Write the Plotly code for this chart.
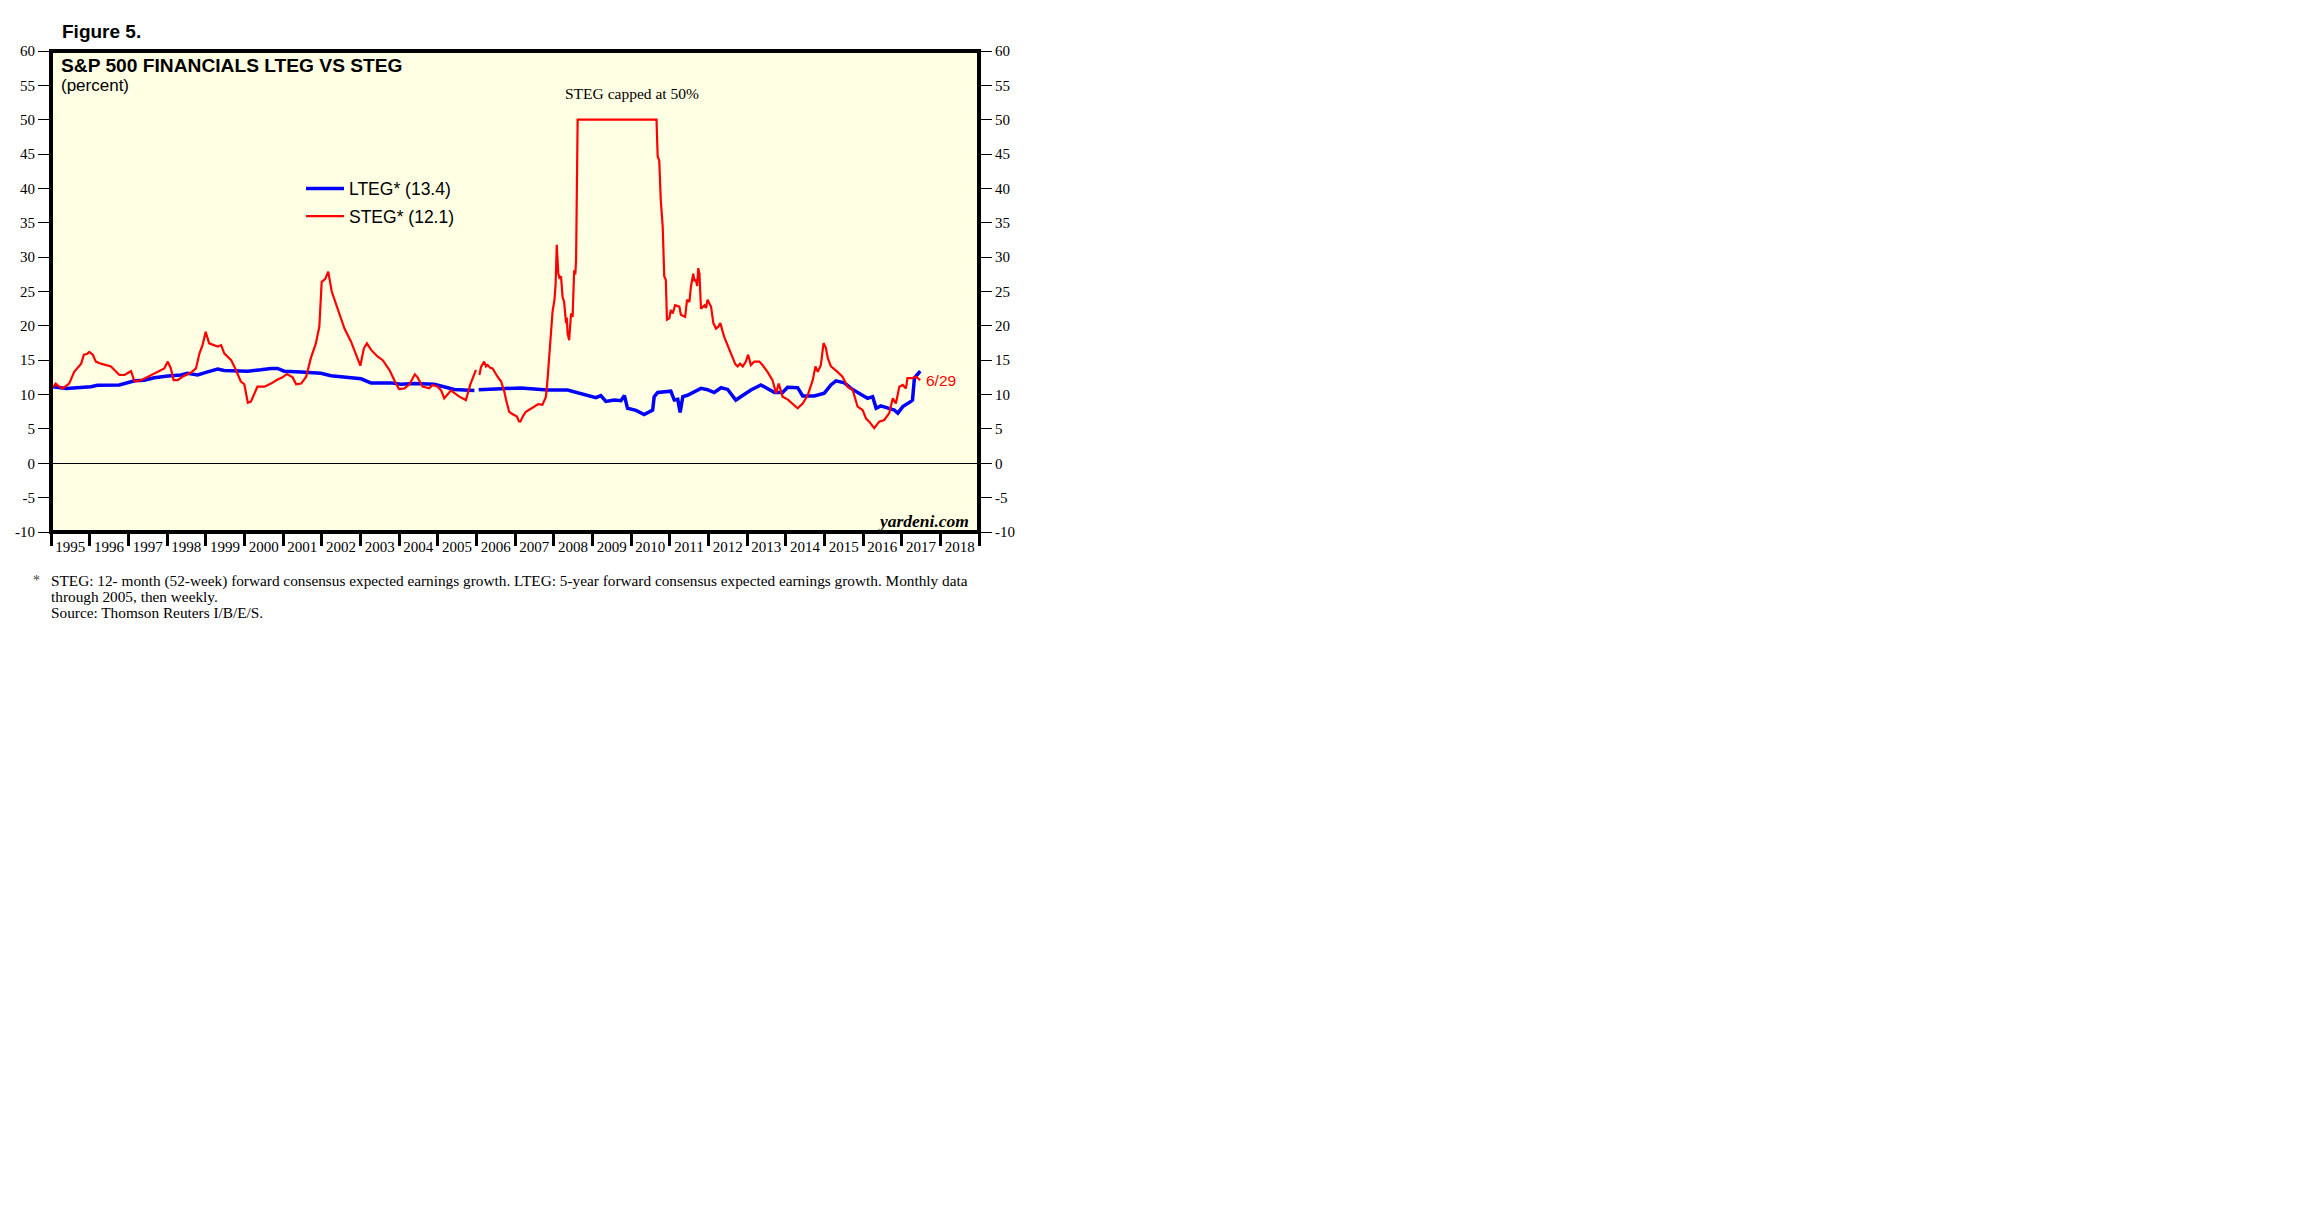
import plotly.graph_objects as go

# ---------------- data ----------------
years = list(range(1995, 2019))
year_labels = [str(y) for y in years]
y_ticks = list(range(-10, 61, 5))
y_tick_labels = [str(v) for v in y_ticks]

steg_x = [1995.05, 1995.12, 1995.2, 1995.3, 1995.47, 1995.6, 1995.78, 1995.85, 1995.93, 1995.99,
          1996.08, 1996.16, 1996.29, 1996.55, 1996.77, 1996.9, 1997.07, 1997.16, 1997.33, 1997.5,
          1997.72, 1997.93, 1998.02, 1998.1, 1998.17, 1998.28, 1998.4, 1998.62, 1998.75, 1998.84,
          1998.92, 1999.0, 1999.09, 1999.22, 1999.31, 1999.4, 1999.48, 1999.66, 1999.74, 1999.91,
          2000.0, 2000.09, 2000.17, 2000.34, 2000.52, 2000.69, 2000.86, 2000.99, 2001.1, 2001.25,
          2001.34, 2001.47, 2001.6, 2001.72, 2001.85, 2001.94, 2002.0, 2002.09, 2002.17, 2002.26,
          2002.41, 2002.59, 2002.76, 2002.89, 2003.0, 2003.09, 2003.17, 2003.28, 2003.45, 2003.58,
          2003.75, 2003.88, 2004.0, 2004.14, 2004.27, 2004.41, 2004.48, 2004.61, 2004.78, 2004.87,
          2005.0, 2005.09, 2005.17, 2005.34, 2005.56, 2005.73, 2005.84, 2005.99, 2006.03,
          2006.08, 2006.12, 2006.2, 2006.25, 2006.29, 2006.36, 2006.42, 2006.5, 2006.55, 2006.64,
          2006.72, 2006.77, 2006.85, 2006.92, 2006.98, 2007.05, 2007.1, 2007.14, 2007.2, 2007.28,
          2007.4, 2007.5, 2007.6, 2007.71, 2007.8, 2007.84, 2007.89, 2007.93, 2007.97, 2008.02,
          2008.05, 2008.08, 2008.1, 2008.12, 2008.15, 2008.19, 2008.23, 2008.27, 2008.32, 2008.34,
          2008.36, 2008.4, 2008.45, 2008.49, 2008.53, 2008.56, 2008.58, 2008.6, 2008.62, 2009.0,
          2009.5, 2010.0, 2010.5, 2010.66, 2010.69, 2010.73, 2010.77, 2010.8, 2010.82, 2010.86,
          2010.9, 2010.93, 2010.99, 2011.03, 2011.08, 2011.14, 2011.19, 2011.25, 2011.29, 2011.4,
          2011.45, 2011.51, 2011.55, 2011.61, 2011.64, 2011.68, 2011.71, 2011.74, 2011.77, 2011.81,
          2011.9, 2011.94, 2011.98, 2012.07, 2012.13, 2012.2, 2012.26, 2012.31, 2012.41, 2012.54,
          2012.63, 2012.7, 2012.76, 2012.82, 2012.89, 2012.97, 2013.03, 2013.1, 2013.19, 2013.32,
          2013.4, 2013.53, 2013.66, 2013.75, 2013.82, 2013.92, 2014.05, 2014.18, 2014.31, 2014.44,
          2014.57, 2014.7, 2014.77, 2014.83, 2014.91, 2014.98, 2015.04, 2015.09, 2015.17, 2015.34,
          2015.47, 2015.6, 2015.73, 2015.86, 2015.99, 2016.08, 2016.16, 2016.29, 2016.35, 2016.42,
          2016.55, 2016.68, 2016.77, 2016.85, 2016.94, 2017.03, 2017.11, 2017.15, 2017.28, 2017.37,
          2017.48]
steg_y = [11.0, 11.6, 11.2, 10.9, 11.6, 13.3, 14.5, 15.8, 15.9, 16.2,
          15.8, 14.8, 14.5, 14.1, 12.85, 12.85, 13.4, 11.9, 12.1, 12.6,
          13.3, 13.8, 14.8, 13.8, 12.1, 12.1, 12.6, 13.2, 13.8, 16.0,
          17.2, 19.15, 17.45, 17.2, 17.0, 17.2, 16.0, 15.0, 14.1, 11.9,
          11.5, 8.8, 8.97, 11.15, 11.15, 11.6, 12.2, 12.5, 13.0, 12.5,
          11.5, 11.6, 12.6, 15.3, 17.45, 19.9, 26.4, 26.8, 27.9, 25.0,
          22.5, 19.6, 17.7, 15.8, 14.2, 16.7, 17.45, 16.5, 15.5, 15.0,
          13.6, 12.1, 10.8, 10.9, 11.5, 12.95, 12.5, 11.15, 10.9, 11.4,
          11.15, 10.6, 9.45, 10.6, 9.7, 9.2, 11.4, 13.6, None,
          12.85, 14.0, 14.8, 14.1, 14.3, 13.9, 13.8, 13.0, 12.6, 11.9,
          10.5, 9.2, 7.5, 7.2, 7.0, 6.8, 6.1, 6.06, 6.8, 7.5,
          7.9, 8.25, 8.6, 8.5, 9.7, 12.1, 16.5, 18.9, 22.0, 23.8,
          26.0, 31.8, 29.0, 27.6, 27.0, 27.2, 24.2, 23.5, 20.4, 21.2,
          18.9, 17.9, 21.8, 21.3, 28.1, 27.5, 29.6, 44.1, 50.0, 50.0,
          50.0, 50.0, 50.0, 50.0, 44.6, 44.1, 38.3, 36.5, 34.4, 27.2,
          26.7, 20.9, 21.1, 22.3, 21.8, 23.0, 22.9, 22.8, 21.6, 21.3,
          23.8, 23.5, 25.7, 27.6, 26.5, 26.7, 25.8, 28.4, 27.6, 22.5,
          23.0, 22.6, 23.8, 22.8, 20.4, 19.6, 19.9, 20.4, 18.4, 16.7,
          15.5, 14.4, 14.1, 14.5, 14.1, 14.8, 15.8, 14.3, 14.8, 14.8,
          14.3, 13.3, 12.1, 10.2, 11.6, 9.7, 9.3, 8.7, 8.0, 8.7,
          9.9, 12.1, 14.1, 13.3, 14.3, 17.5, 16.8, 15.3, 14.1, 13.3,
          12.6, 11.15, 10.7, 8.25, 7.75, 6.5, 6.06, 5.1, 5.5, 6.06,
          6.3, 7.3, 9.45, 8.7, 11.15, 11.4, 10.9, 12.4, 12.4, 12.6,
          12.1]

lteg_x = [1995.05, 1995.4, 1996.03, 1996.2, 1996.77, 1996.98, 1997.16, 1997.41, 1997.67, 1998.02,
          1998.36, 1998.53, 1998.79, 1999.05, 1999.31, 1999.48, 1999.74, 2000.09, 2000.43, 2000.69,
          2000.86, 2001.03, 2001.47, 2001.81, 2001.98, 2002.24, 2002.59, 2003.02, 2003.19, 2003.28,
          2003.79, 2004.05, 2004.4, 2004.91, 2005.26, 2005.43, 2005.95, 2006.01,
          2006.06, 2006.47, 2006.64, 2007.15, 2007.84, 2008.36, 2008.62, 2008.88, 2009.09, 2009.22,
          2009.35, 2009.57, 2009.74, 2009.83, 2009.91, 2010.13, 2010.34, 2010.56, 2010.6, 2010.69,
          2011.03, 2011.12, 2011.21, 2011.27, 2011.34, 2011.46, 2011.64, 2011.81, 2011.98, 2012.15,
          2012.33, 2012.5, 2012.71, 2012.93, 2013.1, 2013.36, 2013.53, 2013.71, 2013.92, 2014.05,
          2014.31, 2014.44, 2014.74, 2015.0, 2015.17, 2015.3, 2015.52, 2015.69, 2015.95, 2016.12,
          2016.25, 2016.34, 2016.46, 2016.68, 2016.81, 2016.9, 2017.03, 2017.24, 2017.28, 2017.33,
          2017.41, 2017.48]
lteg_y = [11.15, 10.9, 11.15, 11.35, 11.4, 11.7, 12.0, 12.1, 12.45, 12.7,
          12.85, 13.1, 12.85, 13.3, 13.7, 13.5, 13.5, 13.4, 13.6, 13.8,
          13.8, 13.4, 13.3, 13.2, 13.1, 12.75, 12.5, 12.3, 11.9, 11.7,
          11.7, 11.5, 11.6, 11.5, 11.0, 10.75, 10.6, None,
          10.7, 10.75, 10.86, 10.96, 10.67, 10.67, 10.3, 9.9, 9.55, 9.85,
          9.0, 9.2, 9.1, 9.85, 8.0, 7.7, 7.1, 7.75, 9.7, 10.3,
          10.5, 9.2, 9.3, 7.4, 9.7, 9.9, 10.4, 10.9, 10.7, 10.3,
          11.0, 10.75, 9.2, 10.0, 10.67, 11.4, 10.9, 10.3, 10.3, 11.05,
          11.0, 9.8, 9.8, 10.2, 11.4, 12.0, 11.7, 10.9, 10.0, 9.45,
          9.7, 8.0, 8.35, 8.0, 7.75, 7.3, 8.25, 9.0, 9.2, 12.4,
          13.0, 13.4]

# ---------------- geometry helpers (page pixel -> paper) ----------------
OFF = 8                       # default body margin of the html page
W, H = 2304 - 2 * OFF, 1228 - 2 * OFF
L, R, T, B = 51, 979, 51, 532  # plot area in page pixels


def px(x):
    return (x - L) / (R - L)


def py(y):
    return (B - y) / (B - T)


SERIF = "Liberation Serif, Times New Roman, serif"
SANS = "Liberation Sans, Arial, sans-serif"

fig = go.Figure()
fig.add_trace(go.Scatter(x=lteg_x, y=lteg_y, mode="lines", name="LTEG* (13.4)", legendgroup="a",
                         line=dict(color="#0000FF", width=3.5), connectgaps=False))
fig.add_trace(go.Scatter(x=steg_x, y=steg_y, mode="lines", name="STEG* (12.1)", legendgroup="b",
                         line=dict(color="#FF0000", width=2.2), connectgaps=False))
# invisible trace to anchor right axis
fig.add_trace(go.Scatter(x=[None], y=[None], yaxis="y2", showlegend=False, hoverinfo="skip"))

axis_font = dict(family=SERIF, size=15, color="black")
fig.update_layout(
    width=W, height=H,
    margin=dict(l=L - OFF, r=(W + OFF) - R, t=T - OFF, b=(H + OFF) - B, pad=0, autoexpand=False),
    paper_bgcolor="white",
    plot_bgcolor="#FFFFE3",
    showlegend=True,
    legend=dict(x=px(301), y=py(170.5), xanchor="left", yanchor="top",
                bgcolor="rgba(0,0,0,0)", borderwidth=0, itemwidth=38,
                font=dict(family=SANS, size=17.5, color="black"),
                tracegroupgap=2),
    xaxis=dict(range=[1995, 2019], showgrid=False, zeroline=False, automargin=False,
               tickmode="array", tickvals=[y + 0.5 for y in years], ticktext=year_labels,
               ticks="outside", ticklen=1, tickcolor="rgba(0,0,0,0)",
               tickfont=axis_font,
               minor=dict(tickmode="array", tickvals=list(range(1995, 2020)),
                          ticks="outside", ticklen=13, tickwidth=2.5, tickcolor="black",
                          showgrid=False),
               showline=False),
    yaxis=dict(range=[-10, 60], showgrid=False, tickmode="array", tickvals=y_ticks,
               ticktext=y_tick_labels, automargin=False,
               ticks="outside", ticklen=12, tickwidth=1, tickcolor="black",
               tickfont=axis_font,
               zeroline=True, zerolinecolor="black", zerolinewidth=1.4, showline=False),
    yaxis2=dict(range=[-10, 60], overlaying="y", side="right", showgrid=False,
                tickmode="array", tickvals=y_ticks, ticktext=y_tick_labels, automargin=False,
                ticks="outside", ticklen=12, tickwidth=1, tickcolor="black",
                tickfont=axis_font,
                zeroline=False, showline=False),
)

# frame
fig.add_shape(type="rect", xref="paper", yref="paper", x0=0, x1=1, y0=0, y1=1,
              line=dict(color="black", width=4), layer="above")

ann = []
ann.append(dict(text="<b>Figure 5.</b>", x=px(60), y=py(32), xanchor="left", yanchor="middle",
                font=dict(family=SANS, size=19, color="black")))
ann.append(dict(text="<b>S&P 500 FINANCIALS LTEG VS STEG</b>", x=px(59), y=py(65), xanchor="left",
                yanchor="middle", font=dict(family=SANS, size=19.2, color="black")))
ann.append(dict(text="(percent)", x=px(59), y=py(86), xanchor="left", yanchor="middle",
                font=dict(family=SANS, size=17, color="black")))
ann.append(dict(text="STEG capped at 50%", x=px(632), y=py(93), xanchor="center", yanchor="middle",
                font=dict(family=SERIF, size=15.5, color="black")))
ann.append(dict(text="6/29", x=px(924), y=py(380), xanchor="left", yanchor="middle",
                font=dict(family=SANS, size=15.5, color="#FF0000")))
ann.append(dict(text="<b><i>yardeni.com</i></b>", x=px(971), y=py(521), xanchor="right",
                yanchor="middle", font=dict(family=SERIF, size=17.5, color="black")))
ann.append(dict(text="*", x=px(31), y=py(580), xanchor="left", yanchor="middle",
                font=dict(family=SERIF, size=14, color="#444")))
foot = ["STEG: 12- month (52-week) forward consensus expected earnings growth. LTEG: 5-year forward consensus expected earnings growth. Monthly data",
        "through 2005, then weekly.",
        "Source: Thomson Reuters I/B/E/S."]
for i, t in enumerate(foot):
    ann.append(dict(text=t, x=px(49), y=py(581 + 15.5 * i), xanchor="left", yanchor="middle",
                    font=dict(family=SERIF, size=15.3, color="black")))
for a in ann:
    a.update(xref="paper", yref="paper", showarrow=False)
fig.update_layout(annotations=ann)

fig.write_html("out.html")
